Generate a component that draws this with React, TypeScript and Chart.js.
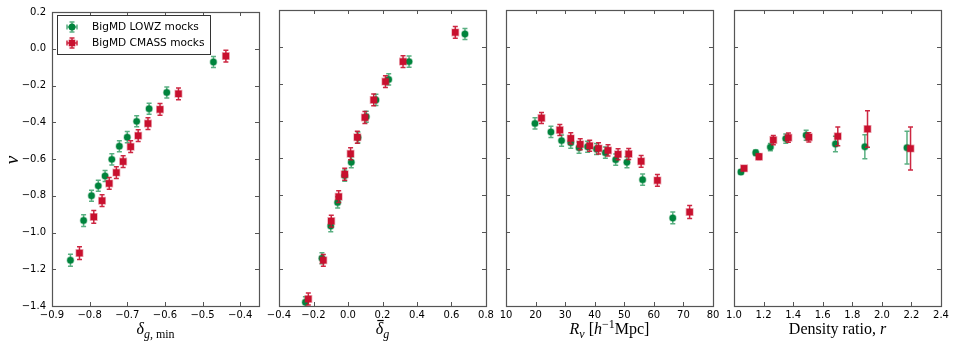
import React, { useEffect, useRef } from "react";
import { Chart, registerables } from "chart.js";
Chart.register(...registerables);

const GREEN = "#00843d";
const RED = "#c8102e";
const GREEN_ERR = "rgba(0,132,61,0.65)";
const RED_ERR = "rgba(200,16,46,0.9)";

const LABEL_LOWZ = "BigMD LOWZ mocks";
const LABEL_CMASS = "BigMD CMASS mocks";

const yTicks = [-1.4, -1.2, -1.0, -0.8, -0.6, -0.4, -0.2, 0.0, 0.2];
const x1Ticks = [-0.9, -0.8, -0.7, -0.6, -0.5, -0.4];
const x2Ticks = [-0.4, -0.2, 0.0, 0.2, 0.4, 0.6, 0.8];
const x3Ticks = [10, 20, 30, 40, 50, 60, 70, 80];
const x4Ticks = [1.0, 1.2, 1.4, 1.6, 1.8, 2.0, 2.2, 2.4];

// Panel 1: delta_g,min
const lowzDmin = [-0.851, -0.816, -0.795, -0.777, -0.759, -0.741, -0.721, -0.700, -0.675, -0.642, -0.595, -0.471];
const lowzNuDmin = [-1.151, -0.935, -0.800, -0.746, -0.692, -0.602, -0.530, -0.481, -0.395, -0.326, -0.238, -0.072];
const lowzErrDmin = [0.032, 0.032, 0.03, 0.03, 0.03, 0.03, 0.03, 0.03, 0.03, 0.03, 0.03, 0.03];
const cmassDmin = [-0.827, -0.789, -0.767, -0.748, -0.729, -0.711, -0.691, -0.671, -0.645, -0.613, -0.564, -0.438];
const cmassNuDmin = [-1.112, -0.915, -0.827, -0.733, -0.674, -0.614, -0.533, -0.473, -0.407, -0.330, -0.245, -0.040];
const cmassErrDmin = [0.035, 0.035, 0.032, 0.032, 0.032, 0.032, 0.032, 0.032, 0.032, 0.032, 0.032, 0.032];

// Panel 2: mean delta_g
const lowzDbar = [-0.247, -0.151, -0.100, -0.060, -0.019, 0.019, 0.058, 0.106, 0.162, 0.236, 0.354, 0.678];
const lowzNuDbar = [-1.380, -1.142, -0.968, -0.840, -0.695, -0.623, -0.489, -0.377, -0.286, -0.175, -0.079, 0.070];
const lowzErrDbar = [0.03, 0.03, 0.03, 0.03, 0.03, 0.03, 0.03, 0.03, 0.03, 0.03, 0.03, 0.03];
const cmassDbar = [-0.230, -0.143, -0.097, -0.054, -0.019, 0.015, 0.054, 0.098, 0.149, 0.217, 0.319, 0.622];
const cmassNuDbar = [-1.362, -1.153, -0.941, -0.809, -0.688, -0.577, -0.488, -0.381, -0.286, -0.187, -0.079, 0.079];
const cmassErrDbar = [0.032, 0.032, 0.032, 0.032, 0.032, 0.032, 0.032, 0.032, 0.032, 0.032, 0.032, 0.032];

// Panel 3: R_v
const lowzRv = [19.8, 25.2, 28.8, 31.9, 34.7, 37.6, 40.6, 43.6, 47.1, 50.9, 56.2, 66.4];
const lowzNuRv = [-0.413, -0.459, -0.506, -0.517, -0.544, -0.539, -0.551, -0.571, -0.609, -0.623, -0.717, -0.924];
const lowzErrRv = [0.03, 0.03, 0.03, 0.03, 0.03, 0.03, 0.03, 0.03, 0.03, 0.03, 0.03, 0.032];
const cmassRv = [22.0, 28.2, 31.9, 35.1, 38.3, 41.3, 44.5, 47.9, 51.5, 55.7, 61.2, 72.1];
const cmassNuRv = [-0.384, -0.449, -0.494, -0.526, -0.534, -0.548, -0.559, -0.580, -0.578, -0.618, -0.721, -0.892];
const cmassErrRv = [0.03, 0.03, 0.03, 0.03, 0.03, 0.03, 0.03, 0.03, 0.03, 0.032, 0.032, 0.035];

// Panel 4: density ratio r
const lowzR = [1.047, 1.147, 1.246, 1.350, 1.488, 1.686, 1.885, 2.170];
const lowzNuR = [-0.676, -0.572, -0.541, -0.495, -0.477, -0.524, -0.539, -0.544];
const lowzErrR = [0.012, 0.015, 0.02, 0.025, 0.027, 0.042, 0.065, 0.088];
const cmassR = [1.068, 1.169, 1.266, 1.368, 1.506, 1.702, 1.903, 2.194];
const cmassNuR = [-0.656, -0.593, -0.503, -0.490, -0.488, -0.483, -0.443, -0.549];
const cmassErrR = [0.012, 0.015, 0.025, 0.025, 0.025, 0.051, 0.099, 0.116];

type Seg = { t: string; it?: boolean; sub?: boolean; sup?: boolean; bar?: boolean };

const LEFT_W = 52;
const RIGHT_PAD = 18;
const TOP_PAD = 10;
const BOTTOM_H = 41;
const PLOT_W = 207;

const panels = [
  {
    left: 52, xMin: -0.9, xMax: -0.35, xTicks: x1Ticks, dec: 1,
    title: [{ t: "δ", it: true }, { t: "g", it: true, sub: true }, { t: ", min", sub: true }] as Seg[],
    g: [lowzDmin, lowzNuDmin, lowzErrDmin], r: [cmassDmin, cmassNuDmin, cmassErrDmin],
  },
  {
    left: 279, xMin: -0.4, xMax: 0.8, xTicks: x2Ticks, dec: 1,
    title: [{ t: "δ", it: true, bar: true }, { t: "g", it: true, sub: true }] as Seg[],
    g: [lowzDbar, lowzNuDbar, lowzErrDbar], r: [cmassDbar, cmassNuDbar, cmassErrDbar],
  },
  {
    left: 506, xMin: 10, xMax: 80, xTicks: x3Ticks, dec: 0,
    title: [{ t: "R", it: true }, { t: "v", it: true, sub: true }, { t: " [" }, { t: "h", it: true }, { t: "−1", sup: true }, { t: "Mpc]" }] as Seg[],
    g: [lowzRv, lowzNuRv, lowzErrRv], r: [cmassRv, cmassNuRv, cmassErrRv],
  },
  {
    left: 734, xMin: 1.0, xMax: 2.4, xTicks: x4Ticks, dec: 1,
    title: [{ t: "Density ratio, " }, { t: "r", it: true }] as Seg[],
    g: [lowzR, lowzNuR, lowzErrR], r: [cmassR, cmassNuR, cmassErrR],
  },
];

function fmt(v: number, d: number) {
  const s = Math.abs(v).toFixed(d);
  return (v < -1e-9 ? "\u2212" : "") + s;
}

const SERIF = '"Liberation Serif", "DejaVu Serif", serif';

function drawMath(ctx: CanvasRenderingContext2D, segs: Seg[], cx: number, base: number, size: number) {
  const fontOf = (s: Seg) => `${s.it ? "italic " : ""}${s.sub || s.sup ? Math.round(size * 0.72) : size}px ${SERIF}`;
  let total = 0;
  const widths = segs.map((s) => {
    ctx.font = fontOf(s);
    const w = ctx.measureText(s.t).width;
    total += w;
    return w;
  });
  let x = cx - total / 2;
  ctx.fillStyle = "#000";
  ctx.textAlign = "left";
  ctx.textBaseline = "alphabetic";
  segs.forEach((s, i) => {
    ctx.font = fontOf(s);
    const y = base + (s.sub ? size * 0.25 : s.sup ? -size * 0.4 : 0);
    ctx.fillText(s.t, x, y);
    if (s.bar) ctx.fillRect(x + 1.5, base - size * 0.88, widths[i] - 1, 1.2);
    x += widths[i];
  });
}

function drawErrIcon(ctx: CanvasRenderingContext2D, x: number, y: number, color: string, errColor: string, square: boolean) {
  ctx.save();
  ctx.strokeStyle = errColor;
  ctx.lineWidth = 1.5;
  ctx.beginPath();
  ctx.moveTo(x - 5, y); ctx.lineTo(x + 5, y);
  ctx.moveTo(x, y - 5); ctx.lineTo(x, y + 5);
  ctx.moveTo(x - 5, y - 2.5); ctx.lineTo(x - 5, y + 2.5);
  ctx.moveTo(x + 5, y - 2.5); ctx.lineTo(x + 5, y + 2.5);
  ctx.moveTo(x - 2.5, y - 5); ctx.lineTo(x + 2.5, y - 5);
  ctx.moveTo(x - 2.5, y + 5); ctx.lineTo(x + 2.5, y + 5);
  ctx.stroke();
  ctx.fillStyle = color;
  if (square) ctx.fillRect(x - 3.3, y - 3.3, 6.6, 6.6);
  else { ctx.beginPath(); ctx.arc(x, y, 3.5, 0, Math.PI * 2); ctx.fill(); }
  ctx.restore();
}

function Panel({ p, i }: { p: (typeof panels)[number]; i: number }) {
  const ref = useRef<HTMLCanvasElement | null>(null);
  const W = LEFT_W + PLOT_W + RIGHT_PAD;
  const H = 347;
  useEffect(() => {
    const canvas = ref.current!;
    const errs = [p.g[2], p.r[2]];
    const errColors = [GREEN_ERR, RED_ERR];
    const plugin = {
      id: "panelDeco" + i,
      beforeDatasetDraw(chart: any, args: any) {
        const ctx = chart.ctx as CanvasRenderingContext2D;
        const a = chart.chartArea;
        const xs = chart.scales.x, ys = chart.scales.y;
        const idx = args.index;
        const ds = chart.data.datasets[idx];
        ctx.save();
        ctx.beginPath();
        ctx.rect(a.left, a.top, a.right - a.left, a.bottom - a.top);
        ctx.clip();
        ctx.strokeStyle = errColors[idx];
        ctx.lineWidth = 1.5;
        ctx.beginPath();
        ds.data.forEach((pt: any, k: number) => {
          const px = xs.getPixelForValue(pt.x);
          const y1 = ys.getPixelForValue(pt.y + errs[idx][k]);
          const y2 = ys.getPixelForValue(pt.y - errs[idx][k]);
          ctx.moveTo(px, y1); ctx.lineTo(px, y2);
          ctx.moveTo(px - 2.5, y1); ctx.lineTo(px + 2.5, y1);
          ctx.moveTo(px - 2.5, y2); ctx.lineTo(px + 2.5, y2);
        });
        ctx.stroke();
        ctx.restore();
      },
      afterDraw(chart: any) {
        const ctx = chart.ctx as CanvasRenderingContext2D;
        const a = chart.chartArea;
        const xs = chart.scales.x, ys = chart.scales.y;
        ctx.save();
        ctx.strokeStyle = "#555";
        ctx.lineWidth = 1;
        ctx.beginPath();
        p.xTicks.forEach((v) => {
          const px = Math.round(xs.getPixelForValue(v)) + 0.5;
          ctx.moveTo(px, a.bottom); ctx.lineTo(px, a.bottom - 4);
          ctx.moveTo(px, a.top); ctx.lineTo(px, a.top + 4);
        });
        yTicks.forEach((v) => {
          const py = Math.round(ys.getPixelForValue(v)) + 0.5;
          ctx.moveTo(a.left, py); ctx.lineTo(a.left + 4, py);
          ctx.moveTo(a.right, py); ctx.lineTo(a.right - 4, py);
        });
        ctx.stroke();
        ctx.strokeStyle = "#555";
        ctx.lineWidth = 1.2;
        ctx.strokeRect(Math.round(a.left) + 0.5, Math.round(a.top) + 0.5, Math.round(a.right - a.left), Math.round(a.bottom - a.top));
        drawMath(ctx, p.title, (a.left + a.right) / 2, 334, 16);
        if (i === 0) {
          // y-axis title
          ctx.save();
          ctx.translate(18, 160);
          ctx.rotate(-Math.PI / 2);
          ctx.font = `italic 19px ${SERIF}`;
          ctx.textAlign = "center";
          ctx.textBaseline = "alphabetic";
          ctx.fillStyle = "#000";
          ctx.fillText("ν", 0, 0);
          ctx.restore();
          // legend
          const lx = a.left + 5, ly = a.top + 3;
          ctx.fillStyle = "#fff";
          ctx.fillRect(lx, ly, 153, 39);
          ctx.strokeStyle = "#333";
          ctx.lineWidth = 1;
          ctx.strokeRect(lx + 0.5, ly + 0.5, 153, 39);
          const labels = chart.data.datasets.map((d: any) => d.label);
          drawErrIcon(ctx, lx + 15, ly + 12, GREEN, GREEN_ERR, false);
          drawErrIcon(ctx, lx + 15, ly + 28, RED, RED_ERR, true);
          ctx.font = '10.6px "DejaVu Sans", sans-serif';
          ctx.fillStyle = "#000";
          ctx.textAlign = "left";
          ctx.textBaseline = "middle";
          ctx.fillText(labels[0], lx + 35, ly + 12);
          ctx.fillText(labels[1], lx + 35, ly + 28);
        }
        ctx.restore();
      },
    };
    const chart = new Chart(canvas, {
      type: "scatter",
      data: {
        datasets: [
          {
            label: LABEL_LOWZ,
            data: p.g[0].map((x, k) => ({ x, y: p.g[1][k] })),
            pointStyle: "circle",
            pointRadius: 3.2,
            backgroundColor: GREEN,
            borderColor: "rgba(0,132,61,0.35)",
            borderWidth: 1.5,
            order: 1,
          },
          {
            label: LABEL_CMASS,
            data: p.r[0].map((x, k) => ({ x, y: p.r[1][k] })),
            pointStyle: "rect",
            pointRadius: 4.6,
            backgroundColor: RED,
            borderColor: "rgba(200,16,46,0.35)",
            borderWidth: 1.5,
            order: 0,
          },
        ],
      },
      options: {
        animation: false,
        responsive: false,
        events: [],
        layout: { padding: { top: TOP_PAD, right: RIGHT_PAD, left: 0, bottom: 0 } },
        plugins: { legend: { display: false }, tooltip: { enabled: false } },
        scales: {
          x: {
            type: "linear",
            min: p.xMin,
            max: p.xMax,
            grid: { display: false, drawTicks: false },
            border: { display: false },
            afterBuildTicks: (s: any) => { s.ticks = p.xTicks.map((v) => ({ value: v })); },
            afterFit: (s: any) => { s.height = BOTTOM_H; },
            ticks: {
              autoSkip: false,
              maxRotation: 0,
              padding: 3,
              color: "#000",
              font: { family: '"DejaVu Sans", sans-serif', size: 10 },
              callback: (v: any) => fmt(Number(v), p.dec),
            },
          },
          y: {
            type: "linear",
            min: -1.4,
            max: 0.2,
            grid: { display: false, drawTicks: false },
            border: { display: false },
            afterBuildTicks: (s: any) => { s.ticks = yTicks.map((v) => ({ value: v })); },
            afterFit: (s: any) => { s.width = LEFT_W; },
            ticks: {
              display: i === 0,
              autoSkip: false,
              padding: 6,
              color: "#000",
              font: { family: '"DejaVu Sans", sans-serif', size: 10 },
              callback: (v: any) => fmt(Number(v), 1),
            },
          },
        },
      },
      plugins: [plugin],
    } as any);
    return () => chart.destroy();
  }, []);
  return (
    <canvas
      ref={ref}
      width={W}
      height={H}
      style={{ position: "absolute", left: p.left - LEFT_W, top: 0, width: W, height: H }}
    />
  );
}

export default function App() {
  return (
    <div style={{ position: "fixed", left: 0, top: 0, width: 954, height: 347, background: "#fff", overflow: "hidden" }}>
      {panels.map((p, i) => (
        <Panel key={i} p={p} i={i} />
      ))}
    </div>
  );
}
